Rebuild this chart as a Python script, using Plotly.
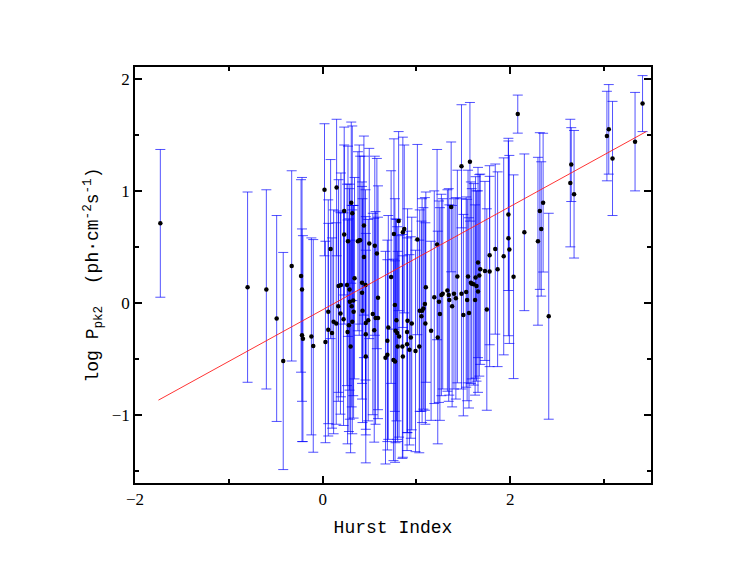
import plotly.graph_objects as go

FAMILY = "Liberation Serif"

# Hurst index, log Ppk2 and its (symmetric) error
hurst = [
    -1.73, -0.80, -0.60, -0.49, -0.42, -0.33, -0.23, -0.22, -0.22, -0.21, -0.12, -0.10,
    0.02, 0.03, 0.06, 0.06, 0.085, 0.10, 0.117, 0.145, 0.149, 0.17, 0.167, 0.19,
    0.195, 0.223, 0.23, 0.23, 0.26, 0.266, 0.27, 0.28, 0.287, 0.29, 0.298, 0.305,
    0.316, 0.31, 0.316, 0.326, 0.33, 0.34, 0.376, 0.39, 0.40, 0.42, 0.42, 0.425,
    0.44, 0.44, 0.457, 0.46, 0.46, 0.46, 0.486, 0.497,
    0.535, 0.55, 0.556, 0.564, 0.578, 0.59, 0.59, 0.67, 0.69, 0.69, 0.70, 0.73,
    0.755, 0.76, 0.77, 0.772, 0.777, 0.787, 0.795, 0.80, 0.81, 0.815, 0.85, 0.855,
    0.855, 0.87, 0.90, 0.90, 0.905, 0.925, 0.94, 0.95, 0.99, 1.01, 1.03, 1.035,
    1.053, 1.06, 1.074, 1.09, 1.10, 1.095, 1.156, 1.19,
    1.22, 1.227, 1.24, 1.25, 1.266, 1.28, 1.33, 1.344, 1.35, 1.37, 1.38, 1.40,
    1.42, 1.436, 1.48, 1.48, 1.50, 1.53, 1.54, 1.55, 1.56, 1.57, 1.58, 1.59,
    1.61, 1.625, 1.63, 1.64, 1.656, 1.656, 1.67, 1.68, 1.73, 1.75, 1.78, 1.78,
    1.84, 1.865,
    1.93, 1.98, 1.98, 1.99, 2.035, 2.08, 2.15, 2.295, 2.315, 2.33, 2.35, 2.41,
    2.64, 2.65, 2.68, 3.03, 3.05, 3.09, 3.33, 3.41,
]
log_ppk2 = [
    0.71, 0.14, 0.12, -0.14, -0.52, 0.33, 0.24, 0.12, -0.29, -0.32, -0.30, -0.385,
    1.01, -0.35, -0.08, -0.24, 0.48, -0.27, -0.17, -0.185, 1.03, 0.15, -0.03, -0.095,
    0.16, -0.146, 0.61, 0.82, 0.16, -0.26, 0.55, -0.20, 0.12, 0.01, -0.39, 0.895,
    0.80, -0.03, -0.17, 0.02, -0.08, 0.22, 0.55, 0.56, 0.56, 0.18, 0.09, -0.07,
    0.69, 0.41, 0.16, -0.18, -0.28, -0.48, -0.155, 0.53,
    -0.10, -0.245, 0.51, -0.135, 0.44, -0.135, 0.045, -0.49, -0.34, -0.465, -0.22, 0.23,
    -0.51, 0.615, -0.02, -0.525, -0.25, -0.155, -0.27, -0.39, 0.73, -0.30, -0.39, -0.48,
    0.63, 0.66, -0.37, -0.26, -0.16, -0.42, -0.31, -0.185, -0.43, 0.565, -0.39, -0.07,
    -0.12, -0.07, -0.05, -0.01, 0.14, -0.185, -0.25, 0.05,
    0.52, -0.31, 0.01, -0.10, 0.07, 0.08, 0.11, 0.07, 0.025, 0.857, -0.03, 0.08,
    0.04, 0.235, 1.22, 0.08, -0.11, 0.096, 0.025, 0.235, -0.09, 1.26, 0.18, 0.17,
    0.165, 0.025, 0.227, 0.15, 0.10, 0.36, 0.245, 0.30, 0.285, -0.06, 0.28, 0.425,
    0.48, 0.30,
    0.415, 0.79, 0.576, 0.477, 0.233, 1.686, 0.63, 0.55, 0.82, 0.66, 0.895, -0.12,
    1.07, 1.235, 0.97, 1.49, 1.55, 1.29, 1.44, 1.78,
]
log_ppk2_err = [
    0.66, 0.85, 0.89, 0.92, 0.97, 0.85, 0.86, 1.00, 0.95, 0.92, 0.88, 0.95,
    0.59, 0.90, 1.00, 0.95, 0.80, 0.85, 1.00, 0.90, 0.61, 0.95, 0.85, 0.90,
    1.00, 0.95, 0.80, 0.75, 0.90, 1.00, 0.85, 0.95, 0.90, 1.05, 0.95, 0.72,
    0.78, 0.90, 1.00, 0.85, 0.95, 0.90, 0.80, 0.85, 0.75, 0.90, 0.95, 1.00,
    0.80, 0.90, 0.85, 0.95, 0.90, 0.95, 0.90, 0.85,
    0.90, 1.00, 0.80, 0.95, 0.85, 0.90, 1.00, 0.95, 0.90, 0.85, 1.00, 0.95,
    0.90, 0.85, 0.95, 0.90, 1.00, 0.90, 0.95, 0.85, 0.80, 0.90, 1.00, 0.90,
    0.85, 0.75, 0.95, 0.90, 1.00, 0.85, 0.90, 0.95, 0.90, 0.85, 0.95, 0.90,
    0.85, 1.00, 0.90, 0.95, 0.85, 0.90, 0.80, 0.95,
    0.85, 0.95, 0.90, 0.95, 0.90, 0.85, 0.90, 0.95, 0.85, 0.58, 0.90, 0.85,
    0.90, 0.95, 0.55, 0.85, 0.90, 0.85, 0.90, 0.95, 0.85, 0.53, 0.90, 0.85,
    0.90, 0.85, 0.90, 0.85, 0.90, 0.85, 0.90, 0.85, 0.80, 0.90, 0.85, 0.80,
    0.76, 0.87,
    0.88, 0.68, 0.87, 0.84, 0.91, 0.17, 0.70, 0.75, 0.70, 0.60, 0.62, 0.92,
    0.57, 0.33, 0.57, 0.40, 0.40, 0.51, 0.44, 0.25,
]

# linear fit
fit_slope = 0.4615
fit_intercept = -0.062
fit_x = [-1.75, 3.45]
fit_y = [fit_intercept + fit_slope * v for v in fit_x]

fig = go.Figure()

fig.add_trace(go.Scatter(
    x=hurst, y=log_ppk2, mode="markers",
    marker=dict(color="black", size=4.5),
    error_y=dict(type="data", array=log_ppk2_err, visible=True,
                 color="rgba(0,0,255,0.68)", thickness=1, width=5),
    showlegend=False,
))

fig.add_trace(go.Scatter(
    x=fit_x, y=fit_y, mode="lines",
    line=dict(color="rgba(255,30,30,0.9)", width=1),
    showlegend=False,
))

axis_common = dict(
    showline=True, linecolor="black", linewidth=1.6, mirror="ticks",
    ticks="inside", ticklen=7, tickwidth=1.6, tickcolor="black",
    showgrid=False, zeroline=False,
    tickfont=dict(family=FAMILY, size=17, color="black"),
)

# the page body adds an 8px margin, so the figure is a bit smaller than the window
fig.update_layout(
    width=740, height=563,
    paper_bgcolor="white", plot_bgcolor="white",
    margin=dict(l=127, r=97, t=59, b=88),
    font=dict(family=FAMILY, color="black"),
    xaxis=dict(
        range=[-2, 3.5], dtick=2, tick0=0,
        minor=dict(ticks="inside", ticklen=4, dtick=1, tickcolor="black", tickwidth=1.6),
        title=dict(text="Hurst Index", font=dict(family="Liberation Mono", size=18), standoff=12),
        **axis_common,
    ),
    yaxis=dict(
        range=[-1.61, 2.107], dtick=1, tick0=0,
        minor=dict(ticks="inside", ticklen=4, dtick=0.5, tickcolor="black", tickwidth=1.6),
        title=dict(text="log P<sub>pk2</sub>  (ph·cm<sup>-2</sup>s<sup>-1</sup>)",
                   font=dict(family="Liberation Mono", size=18), standoff=8),
        **axis_common,
    ),
)

fig.write_html("out.html")
